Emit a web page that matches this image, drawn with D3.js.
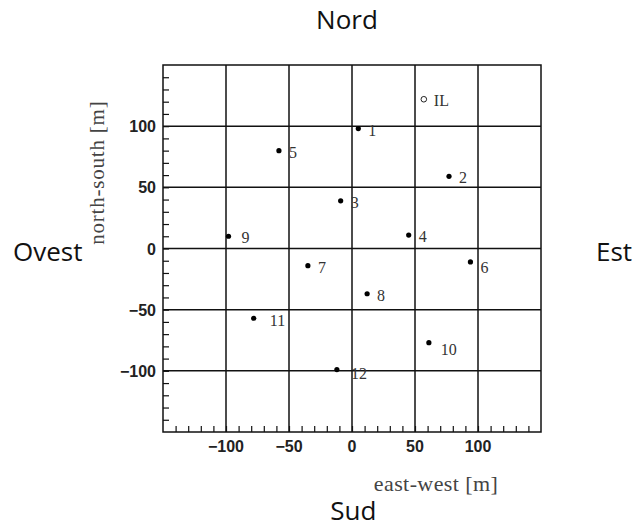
<!DOCTYPE html>
<html>
<head>
<meta charset="utf-8">
<script src="https://cdn.jsdelivr.net/npm/d3@7/dist/d3.min.js"></script>
<style>
  html, body { margin: 0; padding: 0; background: #fff; }
  svg { display: block; }
</style>
</head>
<body>
<div id="chart"></div>
<script>
'use strict';

// station positions
const stationLabels = ['1', '2', '3', '4', '5', '6', '7', '8', '9', '10', '11', '12'];
const eastWest = [5, 77, -9, 45, -58, 94, -35, 12, -98, 61, -78, -12];
const northSouth = [98, 59, 39, 11, 80, -11, -14, -37, 10, -77, -57, -99];

// the open marker
const laserLabels = ['IL'];
const laserEastWest = [57];
const laserNorthSouth = [122];

const majorTicks = [-100, -50, 0, 50, 100];
const axisDomain = [-150, 150];

const W = 632;
const H = 529;
const margin = { left: 163, top: 65, right: 91, bottom: 97 };
const pw = W - margin.left - margin.right;
const ph = H - margin.top - margin.bottom;

// a few labels sit a bit further off in the original
const labelNudge = { '9': [3, 0], '11': [6, 1], '10': [2, 5], '6': [0, 4], '12': [4, 2] };

const x = d3.scaleLinear().domain(axisDomain).range([0, pw]);
const y = d3.scaleLinear().domain(axisDomain).range([ph, 0]);

const svg = d3
  .select('#chart')
  .append('svg')
  .attr('width', W)
  .attr('height', H);

const g = svg
  .append('g')
  .attr('transform', `translate(${margin.left},${margin.top})`);

// grid
g.selectAll('.vgrid')
  .data(majorTicks)
  .enter()
  .append('line')
  .attr('x1', (d) => x(d))
  .attr('x2', (d) => x(d))
  .attr('y1', 0)
  .attr('y2', ph)
  .attr('stroke', '#111')
  .attr('stroke-width', 1.5);

g.selectAll('.hgrid')
  .data(majorTicks)
  .enter()
  .append('line')
  .attr('y1', (d) => y(d))
  .attr('y2', (d) => y(d))
  .attr('x1', 0)
  .attr('x2', pw)
  .attr('stroke', '#111')
  .attr('stroke-width', 1.5);

// inward ticks, ROOT style: bottom and left only
const xAxis = d3
  .axisBottom(x)
  .tickValues(d3.range(-140, 150, 10))
  .tickSize(-6)
  .tickFormat('');
const yAxis = d3
  .axisLeft(y)
  .tickValues(d3.range(-140, 150, 10))
  .tickSize(-6)
  .tickFormat('');

const xa = g.append('g').attr('transform', `translate(0,${ph})`).call(xAxis);
const ya = g.append('g').call(yAxis);
[xa, ya].forEach((a) => {
  a.select('.domain').remove();
  a.selectAll('line').attr('stroke', '#111').attr('stroke-width', 1.2);
});

// tick labels
const tickFmt = (d) => (d < 0 ? '\u2212' + Math.abs(d) : String(d));

g.selectAll('.xlab')
  .data(majorTicks)
  .enter()
  .append('text')
  .attr('x', (d) => x(d))
  .attr('y', ph + 20)
  .attr('text-anchor', 'middle')
  .attr('font-family', 'Liberation Sans, Arial, sans-serif')
  .attr('font-weight', 'bold')
  .attr('font-size', 16)
  .attr('fill', '#222')
  .text(tickFmt);

g.selectAll('.ylab')
  .data(majorTicks)
  .enter()
  .append('text')
  .attr('x', -7)
  .attr('y', (d) => y(d) + 6)
  .attr('text-anchor', 'end')
  .attr('font-family', 'Liberation Sans, Arial, sans-serif')
  .attr('font-weight', 'bold')
  .attr('font-size', 16)
  .attr('fill', '#222')
  .text(tickFmt);

// frame
g.append('rect')
  .attr('width', pw)
  .attr('height', ph)
  .attr('fill', 'none')
  .attr('stroke', '#111')
  .attr('stroke-width', 1.5);

// axis titles
g.append('text')
  .attr('x', x(116))
  .attr('y', ph + 59)
  .attr('text-anchor', 'end')
  .attr('font-family', 'Liberation Serif, Times New Roman, serif')
  .attr('font-size', 22)
  .attr('letter-spacing', 0.4)
  .attr('fill', '#444')
  .text('east-west [m]');

g.append('text')
  .attr('transform', `translate(-59,${y(62)}) rotate(-90)`)
  .attr('text-anchor', 'middle')
  .attr('font-family', 'Liberation Serif, Times New Roman, serif')
  .attr('font-size', 21)
  .attr('letter-spacing', 0.8)
  .attr('fill', '#444')
  .text('north-south [m]');

// stations
const stations = stationLabels.map((label, i) => ({
  label,
  ew: eastWest[i],
  ns: northSouth[i],
}));

g.selectAll('.station')
  .data(stations)
  .enter()
  .append('circle')
  .attr('cx', (d) => x(d.ew))
  .attr('cy', (d) => y(d.ns))
  .attr('r', 2.6)
  .attr('fill', '#000');

const laser = laserLabels.map((label, i) => ({
  label,
  ew: laserEastWest[i],
  ns: laserNorthSouth[i],
}));

g.selectAll('.laser')
  .data(laser)
  .enter()
  .append('circle')
  .attr('cx', (d) => x(d.ew))
  .attr('cy', (d) => y(d.ns))
  .attr('r', 2.8)
  .attr('fill', '#fff')
  .attr('stroke', '#222')
  .attr('stroke-width', 1);

const nudge = (d, k) => (labelNudge[d.label] || [0, 0])[k];

g.selectAll('.plabel')
  .data(stations.concat(laser))
  .enter()
  .append('text')
  .attr('x', (d) => x(d.ew) + 10 + nudge(d, 0))
  .attr('y', (d) => y(d.ns) + 7 + nudge(d, 1))
  .attr('font-family', 'Liberation Serif, Times New Roman, serif')
  .attr('font-size', 16)
  .attr('fill', '#333')
  .text((d) => d.label);

// compass directions
const compass = svg
  .append('g')
  .attr('font-family', 'Open Sans, Noto Sans, sans-serif')
  .attr('font-size', 26)
  .attr('fill', '#111');

compass
  .append('text')
  .attr('x', margin.left + x(-4))
  .attr('y', 29)
  .attr('text-anchor', 'middle')
  .text('Nord');
compass
  .append('text')
  .attr('x', margin.left + x(1))
  .attr('y', 520)
  .attr('text-anchor', 'middle')
  .text('Sud');
compass
  .append('text')
  .attr('x', 13)
  .attr('y', margin.top + y(-10))
  .text('Ovest');
compass
  .append('text')
  .attr('x', 596)
  .attr('y', margin.top + y(-10))
  .text('Est');
</script>
</body>
</html>
